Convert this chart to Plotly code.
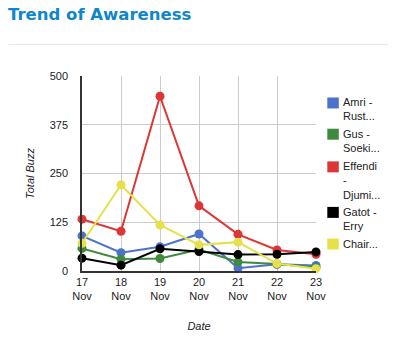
import plotly.graph_objects as go

dates = [17, 18, 19, 20, 21, 22, 23]
tick_labels = ["17<br>Nov", "18<br>Nov", "19<br>Nov", "20<br>Nov", "21<br>Nov", "22<br>Nov", "23<br>Nov"]
amri = [90, 47, 62, 95, 7, 17, 14]
gus = [58, 30, 32, 55, 23, 18, 9]
effendi = [133, 102, 448, 167, 94, 54, 43]
gatot = [33, 15, 57, 50, 42, 43, 49]
chair = [71, 221, 118, 67, 74, 19, 6]

series_names = ["Amri -<br>Rust...", "Gus -<br>Soeki...", "Effendi<br>-<br>Djumi...", "Gatot -<br>Erry", "Chair..."]
series_values = [amri, gus, effendi, gatot, chair]
series_colors = ["#4d72ce", "#3f8a3f", "#dc3636", "#000000", "#e6e04a"]

W, H = 393, 337
L, R, T, B = 81.7, 315.7, 75.7, 271.0
pw, ph = R - L, B - T


def px_x(v):
    return (v - L) / pw


def px_y(v):
    return (B - v) / ph


fig = go.Figure()
for name, vals, col in zip(series_names, series_values, series_colors):
    fig.add_trace(go.Scatter(
        x=dates, y=vals, mode="lines+markers", name=name.replace("<br>", " "),
        line=dict(color=col, width=2), marker=dict(color=col, size=9),
        cliponaxis=False, showlegend=False, hoverinfo="skip"))

# custom legend (squares + wrapped labels), positioned like the reference
legend_centers = [102.7, 134.0, 166.7, 212.3, 244.0]
shapes = [dict(type="line", xref="paper", yref="paper",
               x0=px_x(8), x1=px_x(388), y0=px_y(44), y1=px_y(44),
               line=dict(color="#e6e6e6", width=1))]
annotations = []
for name, col, cy in zip(series_names, series_colors, legend_centers):
    shapes.append(dict(type="rect", xref="paper", yref="paper",
                       x0=px_x(327), x1=px_x(338.5), y0=px_y(cy - 5.5), y1=px_y(cy + 5.5),
                       fillcolor=col, line=dict(width=0)))
    annotations.append(dict(text=name, xref="paper", yref="paper",
                            x=px_x(341.5), y=px_y(cy - 7.5), xanchor="left", yanchor="top",
                            align="left", showarrow=False, borderpad=0,
                            font=dict(size=11, color="#222222")))

font = "Arial, Liberation Sans, sans-serif"
fig.update_layout(
    width=W, height=H,
    margin=dict(l=L, r=W - R, t=T, b=H - B, pad=0, autoexpand=False),
    paper_bgcolor="white", plot_bgcolor="white",
    font=dict(family=font, size=11, color="#222222"),
    showlegend=False,
    title=dict(text="<b>Trend of Awareness</b>", xref="container", yref="container",
               x=8 / W, y=1 - 14.5 / H, xanchor="left", yanchor="middle",
               font=dict(family="DejaVu Sans, Verdana, sans-serif", size=16.5, color="#0f86cc")),
    xaxis=dict(range=[17, 23], tickvals=dates, ticktext=tick_labels,
               showgrid=True, gridcolor="#cccccc", gridwidth=1,
               showline=True, linecolor="#333333", linewidth=1.5,
               zeroline=False, ticks="", tickfont=dict(size=11, color="#222222"),
               title=dict(text="<i>Date</i>", font=dict(size=11, color="#222222"), standoff=21)),
    yaxis=dict(range=[0, 500], tickvals=[0, 125, 250, 375, 500],
               showgrid=True, gridcolor="#cccccc", gridwidth=1,
               showline=True, linecolor="#333333", linewidth=1.5,
               zeroline=False, ticks="", ticklabelstandoff=10,
               tickfont=dict(size=11, color="#222222"),
               title=dict(text="<i>Total Buzz</i>", font=dict(size=11, color="#222222"), standoff=13)),
    shapes=shapes,
    annotations=annotations,
)
fig.write_html("out.html")
